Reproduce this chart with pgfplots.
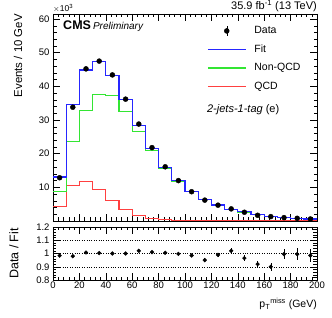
\documentclass[border=0pt]{standalone}
\usepackage{pgfplots}
\pgfplotsset{compat=1.18}
\usepackage{fontspec}
\setmainfont{Liberation Sans}
\definecolor{rblue}{rgb}{0.15,0.15,1}
\definecolor{rgreen}{rgb}{0.2,0.9,0.2}
\definecolor{rred}{rgb}{1,0.25,0.25}
\pgfplotstableread{
x nonqcd qcd fit
0 8.7 4.3 13.06
10 23.7 10.6 34.5
20 32.9 11.8 44.85
30 37.7 9.3 47.35
40 37.2 6.1 43.3
50 32.6 3.3 36.0
60 26.7 1.6 28.25
70 20.9 0.8 21.6
80 15.7 0.4 16.0
90 11.85 0.2 12.0
100 8.75 0.1 8.83
110 6.45 0.05 6.5
120 4.72 0.03 4.75
130 3.51 0.02 3.53
140 2.69 0.01 2.7
150 1.84 0.01 1.85
160 1.43 0.01 1.44
170 0.99 0.0 1.0
180 0.8 0.0 0.8
190 0.6 0.0 0.6
200 0.6 0.0 0.6
}\hist
\pgfplotstableread{
x y ey r er
5 12.85 0.12 0.984 0.01
15 33.8 0.2 0.98 0.006
25 45.2 0.22 1.008 0.005
35 47.5 0.22 1.003 0.005
45 43.4 0.2 1.0 0.005
55 36.2 0.19 1.0 0.005
65 28.8 0.17 1.02 0.006
75 21.8 0.15 1.01 0.007
85 16.1 0.13 1.005 0.008
95 12.0 0.11 0.997 0.009
105 8.7 0.09 0.985 0.011
115 6.2 0.08 0.95 0.013
125 4.7 0.07 0.99 0.015
135 3.6 0.06 1.02 0.018
145 2.6 0.05 0.965 0.02
155 1.7 0.04 0.92 0.025
165 1.3 0.036 0.9 0.03
175 1.0 0.032 0.995 0.04
185 0.8 0.028 0.995 0.045
195 0.6 0.025 0.985 0.05
}\data
\begin{document}
\begin{tikzpicture}
\useasboundingbox (-53pt,-97pt) rectangle (279pt,221pt);
\pgfplotsset{
  every axis/.append style={
    scale only axis, width=264pt,
    xmin=0, xmax=200,
    clip mode=individual,
    tick align=inside, tick pos=both,
    major tick length=7pt, minor tick length=3.5pt,
    tick style={black, line width=0.4pt},
    axis line style={line width=0.6pt},
    minor tick num=4,
    /pgf/number format/assume math mode=true,
    tick label style={font=\fontsize{9.5}{11}\selectfont},
  },
}
\begin{axis}[
  name=main, at={(0pt,0pt)}, anchor=south west,
  height=207pt, ymin=0, ymax=61.5,
  xtick={0,20,...,200}, xticklabels={},
  ytick={0,10,...,60}, yticklabels={,10,20,30,40,50,60},
  legend style={at={(0.583,0.945)}, anchor=north west, draw=none, fill=none,
    font=\fontsize{10.5}{12}\selectfont, row sep=7.6pt, column sep=7pt,
    inner sep=0pt, nodes={inner sep=1pt}},
  legend cell align=left,
  legend image code/.code={\draw[#1] (0pt,0pt)--(38pt,0pt);},
]
\addlegendimage{black, legend image code/.code={\draw[black,line width=0.5pt] (19pt,-5pt)--(19pt,5pt); \fill[black] (19pt,0pt) circle (2.5pt);}}
\addlegendentry{Data}
\addlegendimage{draw=rblue, line width=1.3pt}
\addlegendentry{Fit}
\addlegendimage{draw=rgreen, line width=1.3pt}
\addlegendentry{Non-QCD}
\addlegendimage{draw=rred, line width=1.3pt}
\addlegendentry{QCD}
\addplot[const plot, draw=rred, line width=1.15pt, forget plot] table[x=x, y=qcd] {\hist};
\addplot[const plot, draw=rgreen, line width=1.15pt, forget plot] table[x=x, y=nonqcd] {\hist};
\addplot[const plot, draw=rblue, line width=1.15pt, forget plot] table[x=x, y=fit] {\hist};
\addplot[only marks, mark=*, mark size=2.5pt, black, forget plot,
  error bars/.cd, y dir=both, y explicit, error mark=none] table[x=x, y=y, y error=ey] {\data};
\node[anchor=south west, inner sep=0pt, font=\fontsize{8.5}{9}\selectfont] at (rel axis cs:0,1) [yshift=1.5pt] {$\times$10\textsuperscript{3}};
\node[anchor=south east, inner sep=0pt, font=\fontsize{11}{13}\selectfont] at (rel axis cs:1,1) [yshift=2pt] {35.9 fb\textsuperscript{-1} (13 TeV)};
\node[anchor=north west, inner sep=0pt] at (rel axis cs:0.038,0.968) {{\fontsize{12.5}{14}\selectfont\bfseries CMS}\hspace{2pt}{\fontsize{10}{12}\selectfont\itshape Preliminary}};
\node[anchor=west, inner sep=0pt, font=\fontsize{11}{13}\selectfont] at (rel axis cs:0.583,0.537) {\textit{2-jets-1-tag} (e)};
\node[rotate=90, anchor=east, inner sep=0pt, font=\fontsize{11.4}{13}\selectfont] at ([xshift=-35pt]rel axis cs:0,1) {Events / 10 GeV};
\end{axis}
\begin{axis}[
  name=ratio, at={(0pt,-6pt)}, anchor=north west,
  height=53pt, ymin=0.8, ymax=1.2,
  xtick={0,20,...,200},
  ytick={0.8,0.9,1,1.1,1.2}, minor ytick={0.82,0.84,0.86,0.88,0.92,0.94,0.96,0.98,1.02,1.04,1.06,1.08,1.12,1.14,1.16,1.18},
  yticklabel style={/pgf/number format/fixed, /pgf/number format/precision=1},
  ymajorgrids, grid style={black, dotted, line width=0.4pt},
  xticklabel style={yshift=1.5pt},
]
\addplot[only marks, mark=*, mark size=1.9pt, black,
  error bars/.cd, y dir=both, y explicit, error mark=none, error bar style={line width=0.6pt}] table[x=x, y=r, y error=er] {\data};
\node[anchor=north east, inner sep=0pt, font=\fontsize{10.5}{12}\selectfont] at ([yshift=-18pt]rel axis cs:1,0) {p\textsubscript{T}\textsuperscript{miss} (GeV)};
\node[rotate=90, anchor=center, inner sep=0pt, font=\fontsize{12.5}{14}\selectfont] at ([xshift=-39pt]rel axis cs:0,0.5) {Data / Fit};
\end{axis}
\end{tikzpicture}
\end{document}
